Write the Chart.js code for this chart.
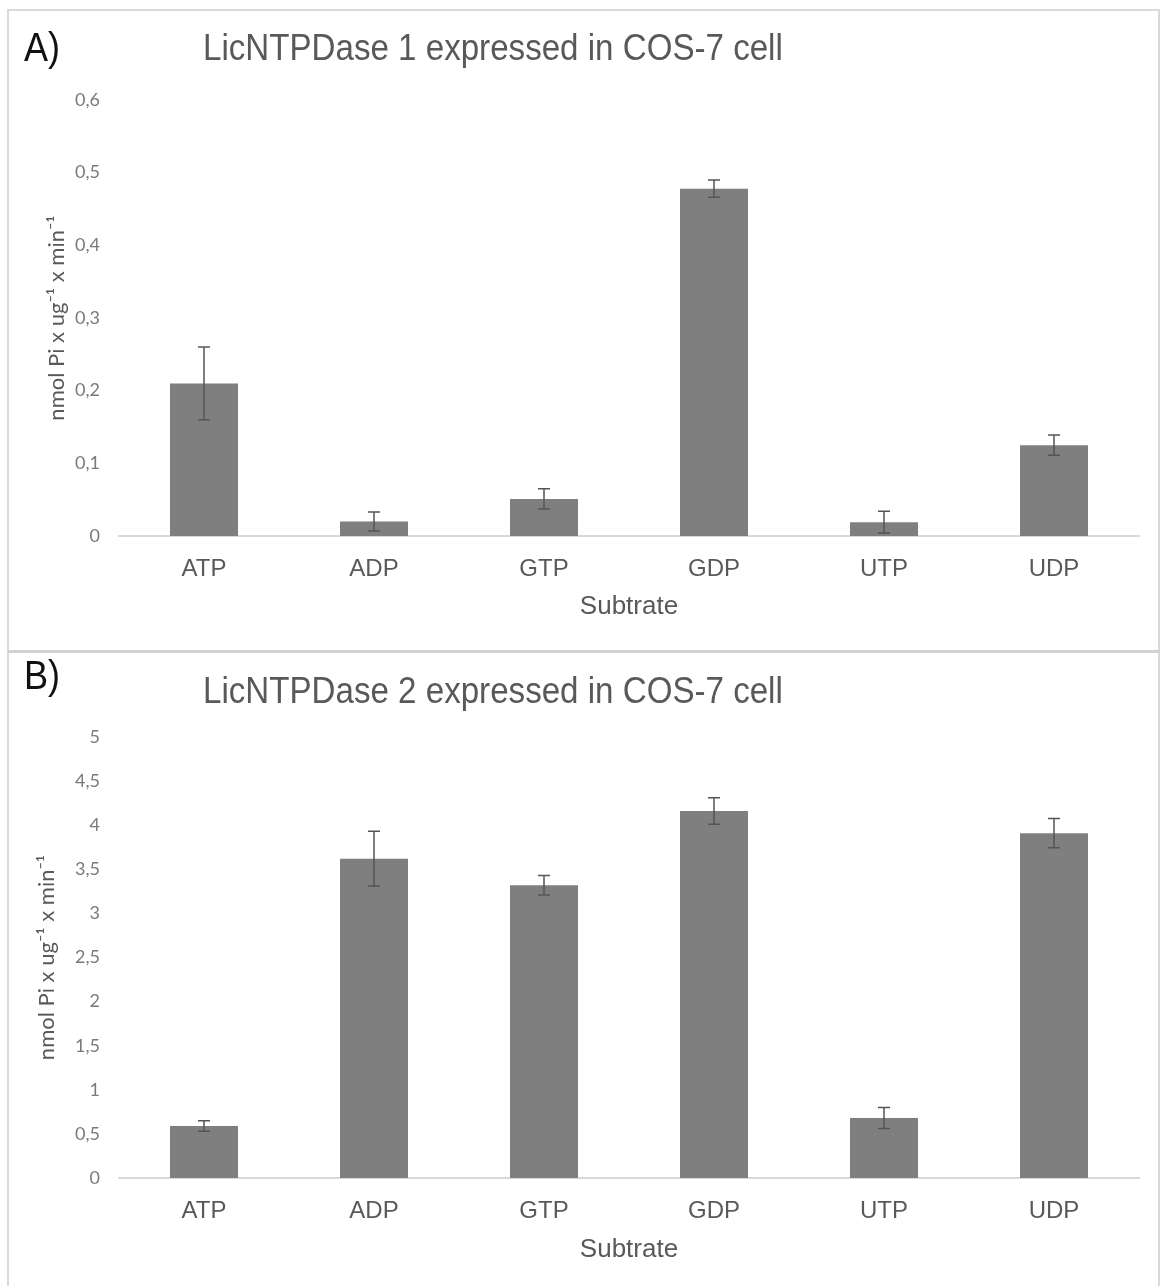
<!DOCTYPE html>
<html>
<head>
<meta charset="utf-8">
<script src="https://cdn.jsdelivr.net/npm/chart.js@4.4.1/dist/chart.umd.min.js"></script>
<style>
  body { margin: 0; background: #fff; width: 1163px; height: 1286px; position: relative; overflow: hidden; }
  .frame { position: absolute; left: 7px; top: 9px; width: 1153px; height: 1300px; border: 2px solid #dadada; box-sizing: border-box; }
  .sep { position: absolute; left: 8px; top: 650px; width: 1152px; height: 3px; background: #d2d2d2; }
  canvas { position: absolute; left: 0; }
  .letter { position: absolute; left: 24px; font-family: 'Liberation Sans', Arial, sans-serif; font-size: 40px; line-height: 40px; color: #111; transform: scaleX(0.9); transform-origin: left top; }
  .title { position: absolute; left: 203px; font-family: 'Liberation Sans', Arial, sans-serif; font-size: 36px; line-height: 36px; color: #595959; white-space: nowrap; transform: scaleX(0.92); transform-origin: left top; }
</style>
</head>
<body>
<div class="frame"></div>
<div class="sep"></div>
<canvas id="chartA" width="1163" height="651" style="top:0"></canvas>
<canvas id="chartB" width="1163" height="635" style="top:651px"></canvas>
<div class="letter" style="top:27px">A)</div>
<div class="title" style="top:30px">LicNTPDase 1 expressed in COS-7 cell</div>
<div class="letter" style="top:655px">B)</div>
<div class="title" style="top:673px">LicNTPDase 2 expressed in COS-7 cell</div>
<script>
// substrates on the x axis
const substrates = ['ATP', 'ADP', 'GTP', 'GDP', 'UTP', 'UDP'];

// panel A: LicNTPDase 1
const activity1 = [0.21, 0.02, 0.051, 0.478, 0.019, 0.125];
const error1 = [0.05, 0.013, 0.014, 0.012, 0.015, 0.014];

// panel B: LicNTPDase 2
const activity2 = [0.59, 3.62, 3.32, 4.16, 0.68, 3.91];
const error2 = [0.06, 0.31, 0.11, 0.15, 0.12, 0.165];

const yTitle = 'nmol Pi x ug\u207B\u00B9 x min\u207B\u00B9';
const xTitle = 'Subtrate';

// comma decimals like the original
function fmtTick(v) {
  const r = Math.round(v * 10) / 10;
  return Number.isInteger(r) ? String(r) : r.toFixed(1).replace('.', ',');
}

// simple error bar drawing, using the y scale of the chart
const errorBarPlugin = {
  id: 'errorBars',
  afterDatasetsDraw(chart, args, opts) {
    const ctx = chart.ctx;
    const y = chart.scales.y;
    const meta = chart.getDatasetMeta(0);
    const values = chart.data.datasets[0].data;
    ctx.save();
    ctx.strokeStyle = opts.color;
    ctx.lineWidth = opts.width;
    meta.data.forEach((bar, i) => {
      const top = y.getPixelForValue(values[i] + opts.errors[i]);
      const bot = y.getPixelForValue(values[i] - opts.errors[i]);
      ctx.beginPath();
      ctx.moveTo(bar.x, top); ctx.lineTo(bar.x, bot);
      ctx.moveTo(bar.x - opts.cap, top); ctx.lineTo(bar.x + opts.cap, top);
      ctx.moveTo(bar.x - opts.cap, bot); ctx.lineTo(bar.x + opts.cap, bot);
      ctx.stroke();
    });
    ctx.restore();
  }
};

function makeChart(id, values, errors, yMax, yStep, cfg) {
  const ctx = document.getElementById(id).getContext('2d');
  return new Chart(ctx, {
    type: 'bar',
    data: {
      labels: substrates,
      datasets: [{
        data: values,
        backgroundColor: '#7f7f7f',
        borderWidth: 0,
        barPercentage: 0.4,
        categoryPercentage: 1.0
      }]
    },
    options: {
      responsive: false,
      animation: false,
      devicePixelRatio: 1,
      layout: { padding: { top: cfg.top, right: 24, left: 0, bottom: 0 } },
      plugins: {
        legend: { display: false },
        tooltip: { enabled: false },
        errorBars: { errors: errors, color: '#555', width: 1.5, cap: 6 }
      },
      scales: {
        x: {
          grid: { display: false, drawTicks: false },
          border: { display: true, color: '#d9d9d9', width: 2 },
          ticks: {
            color: '#595959',
            padding: 19,
            font: { family: "'Liberation Sans', Arial, sans-serif", size: 24 }
          },
          title: {
            display: true,
            text: xTitle,
            color: '#595959',
            font: { family: "'Liberation Sans', Arial, sans-serif", size: 26 },
            padding: { top: 0, bottom: cfg.xTitlePad }
          },
          afterFit: scale => { scale.height = cfg.xHeight; }
        },
        y: {
          min: 0,
          max: yMax,
          grid: { display: false, drawTicks: false },
          border: { display: false },
          ticks: {
            stepSize: yStep,
            color: '#7a7a7a',
            padding: 19,
            font: { family: "Lato, 'DejaVu Sans', sans-serif", size: 18 },
            callback: v => fmtTick(v)
          },
          title: {
            display: true,
            text: yTitle,
            color: '#595959',
            font: { family: "Lato, 'DejaVu Sans', sans-serif", size: 22 },
            padding: { top: cfg.yTitlePad, bottom: 0 }
          },
          afterFit: scale => { scale.width = 119; }
        }
      }
    },
    plugins: [errorBarPlugin]
  });
}

makeChart('chartA', activity1, error1, 0.6, 0.1, { top: 100, xHeight: 115, xTitlePad: 29, yTitlePad: 44 });
makeChart('chartB', activity2, error2, 5, 0.5, { top: 86, xHeight: 108, xTitlePad: 21, yTitlePad: 34 });
</script>
</body>
</html>
